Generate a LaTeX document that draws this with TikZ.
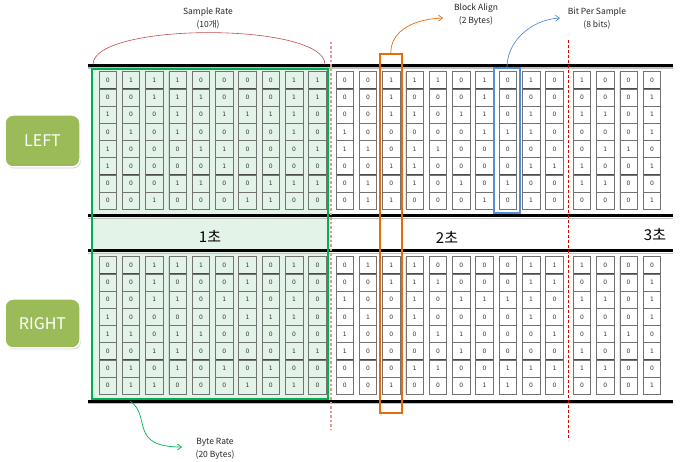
\documentclass[tikz,border=0pt]{standalone}
\usepackage{fontspec}
\setmainfont{Noto Sans CJK KR}
\newfontfamily\cellfont{DejaVu Sans}
\usetikzlibrary{shadows,arrows.meta}
\definecolor{mint}{RGB}{228,243,232}
\definecolor{grn}{RGB}{0,176,80}
\definecolor{orng}{RGB}{228,108,10}
\definecolor{blu}{RGB}{85,142,213}
\definecolor{olive}{RGB}{155,187,89}
\definecolor{arcred}{RGB}{192,80,77}
\definecolor{pinkd}{RGB}{230,150,150}
\definecolor{redd}{RGB}{220,0,0}
\tikzset{
  cell/.style={draw=black!55, line width=0.7pt, minimum width=17.5pt, minimum height=17.2pt,
    inner sep=0pt, font=\cellfont\fontsize{6}{6}\selectfont, text=black!80,
    path picture={\draw[black!80, line width=1.2pt]
      (path picture bounding box.north west) -- (path picture bounding box.south west);
      \draw[black!70, line width=0.9pt]
      (path picture bounding box.south west) -- (path picture bounding box.south east);}},
  chanbox/.style={rounded corners=8pt, fill=olive, draw=white, line width=1.5pt,
    drop shadow={opacity=0.35, shadow xshift=1pt, shadow yshift=-1.5pt},
    minimum width=75pt, text=white, font=\fontsize{16}{18}\selectfont},
  lbl/.style={align=center, font=\fontsize{8.5}{13}\selectfont, text=black!85, inner sep=0pt},
  seclbl/.style={font=\fontsize{15}{16}\selectfont, inner sep=0pt},
  rail/.style={line width=3pt, black},
  railshade/.style={line width=1.2pt, black!25},
  tipb/.style={-{Straight Barb[length=4pt, width=6pt]}, line width=0.7pt},
}
\newcommand\bitblock[4]{%
  \foreach \r [count=\j from 0] in {#3} {%
    \foreach \b [count=\i from 0] in \r {%
      \node[cell] (#4-\j-\i) at ({#1+23.3*\i+8.75},{#2+17.2*\j+8.6}) {\b};
    }%
  }%
}
\begin{document}
\begin{tikzpicture}[x=1pt,y=-1pt]
\useasboundingbox (0,0) rectangle (683,462);
\fill[white] (0,0) rectangle (683,462);

% green one-second region fill
\node[fill=mint, minimum width=236pt, minimum height=330pt, inner sep=0pt] (onesecfill) at (210,234) {};

% rails
\foreach \yy/\nm in {65.7/ra,216/rb,251/rc,401/rd} {
  \draw[railshade] (88,\yy+2.3) -- (673,\yy+2.3);
  \coordinate (\nm-w) at (88,\yy);
  \coordinate (\nm-e) at (673,\yy);
  \draw[rail] (\nm-w) -- (\nm-e);
}

% dashed second boundaries
\coordinate (d1t) at (331,42); \coordinate (d1b) at (331,430);
\coordinate (d2t) at (568,40); \coordinate (d2b) at (568,440);
\draw[pinkd, line width=1.3pt, dash pattern=on 2.5pt off 2pt] (d1t) -- (d1b);
\draw[redd, line width=0.8pt, dash pattern=on 3pt off 2pt] (d2t) -- (d2b);

% LEFT channel bits
\bitblock{99}{71.7}{{0,1,1,1,0,0,0,0,1,1},{0,0,1,1,1,0,0,0,1,1},{1,0,0,1,0,1,1,1,1,0},{0,1,0,1,0,0,0,0,1,0},{1,0,0,0,1,1,0,0,0,1},{1,0,0,0,0,1,0,0,0,0},{0,0,0,1,1,0,0,1,1,1},{0,0,1,0,0,0,1,1,0,0}}{la}
\bitblock{336}{71.7}{{0,0,1,1,1,0,1,0,1,0},{0,0,1,0,0,0,1,0,0,0},{0,0,1,1,0,1,1,0,1,0},{1,0,0,0,0,0,1,1,1,0},{1,1,0,1,1,0,0,0,0,0},{0,0,1,1,0,0,0,0,1,1},{0,1,0,1,0,1,0,1,0,0},{0,1,1,0,0,0,1,0,1,0}}{lb}
\bitblock{573.3}{71.7}{{1,0,0,0},{0,0,0,1},{1,1,0,1},{0,0,0,1},{0,1,1,0},{1,0,0,1},{1,1,0,0},{0,0,0,1}}{lc}

% RIGHT channel bits
\bitblock{99}{256.7}{{0,0,1,1,1,0,1,0,1,0},{0,0,1,0,0,0,1,0,0,0},{0,0,1,1,0,1,1,0,1,0},{1,0,0,0,0,0,1,1,1,0},{1,1,0,1,1,0,0,0,0,0},{0,0,1,1,0,0,0,0,1,1},{0,1,0,1,0,1,0,1,0,0},{0,1,1,0,0,0,1,0,1,0}}{ra}
\bitblock{336}{256.7}{{0,1,1,1,0,0,0,0,1,1},{0,0,1,1,1,0,0,0,1,1},{1,0,0,1,0,1,1,1,1,0},{0,1,0,1,0,0,0,0,1,0},{1,0,0,0,1,1,0,0,0,1},{1,0,0,0,0,1,0,0,0,0},{0,0,0,1,1,0,0,1,1,1},{0,0,1,0,0,0,1,1,0,0}}{rb}
\bitblock{573.3}{256.7}{{1,0,0,0},{0,0,0,1},{1,1,0,1},{0,0,0,1},{0,1,1,0},{1,0,0,1},{1,1,0,0},{0,0,0,1}}{rc}

% green border
\node[draw=grn, line width=2pt, minimum width=236pt, minimum height=330pt, inner sep=0pt] (onesec) at (210,234) {};

% block align (orange) and bit per sample (blue)
\node[draw=orng, line width=2.3pt, minimum width=21.7pt, minimum height=359pt, inner sep=0pt] (babox) at (390.8,233.5) {};
\node[draw=blu, line width=1.8pt, minimum width=26pt, minimum height=145pt, inner sep=0pt] (bpsbox) at (507,140.5) {};

% channel labels
\node[chanbox, minimum height=52pt] (left) at (42.5,141) {LEFT};
\node[chanbox, minimum height=49pt] (right) at (42.5,323.5) {RIGHT};

% second labels
\node[seclbl] (s1) at (210,236) {1초};
\node[seclbl] (s2) at (447,237.5) {2초};
\node[seclbl] (s3) at (655,235) {3초};

% top labels
\node[lbl] (srate) at (208,18.5) {Sample Rate\\(10개)};
\node[lbl] (balign) at (476,14.5) {Block Align\\(2 Bytes)};
\node[lbl] (bps) at (597,18.5) {Bit Per Sample\\(8 bits)};
\node[lbl] (brate) at (215,448.5) {Byte Rate\\(20 Bytes)};

% sample rate arc
\coordinate (arcL) at (93,64.5);
\coordinate (arcR) at (325,64.5);
\draw[arcred, line width=0.6pt] (arcL) .. controls (93,22) and (325,22) .. (arcR);

% arrows
\coordinate (baend) at (443,18);
\coordinate (bpsend) at (560,18);
\coordinate (brend) at (182,447);
\coordinate (brstart) at (130,401);
\draw[tipb, orng] (babox.north) .. controls (390.8,30) and (415,19) .. (baend);
\draw[tipb, blu] (bpsbox.north) .. controls (507,42) and (530,20) .. (bpsend);
\draw[tipb, grn] (brstart) .. controls (152,416) and (128,447) .. (brend);
\end{tikzpicture}
\end{document}
